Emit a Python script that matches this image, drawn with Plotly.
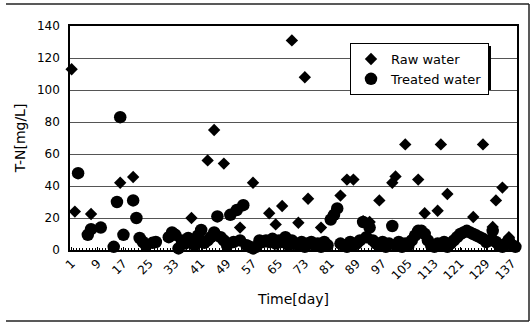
import plotly.graph_objects as go

# Raw water T-N (day, mg/L)
raw_day = [1, 2, 7, 16, 20, 38, 43, 45, 48, 53, 57, 62, 64, 66, 69, 71, 73, 74, 78,
           84, 86, 88, 91, 93, 96, 100, 101, 104, 108, 110, 114, 115, 117, 125, 128,
           131, 132, 134, 136]
raw_val = [113, 24, 22.5, 42, 45.6, 20, 56, 75, 54, 14, 42, 23, 16, 27.5, 131, 17, 108, 32, 14,
           34, 44, 44, 18, 17.5, 31, 42, 46, 66, 44, 23, 24.5, 66, 35, 20.6, 66,
           14.4, 31, 39, 8]

# Treated water T-N (day, mg/L)
treated_day = [3, 6, 7, 10, 14, 15, 16, 17, 20, 21, 22, 23, 24, 26, 27, 31, 32, 33, 34, 35,
               36, 37, 38, 39, 40, 41, 42, 43, 44, 45, 46, 47, 48, 49, 50, 51, 52, 53, 54, 55,
               56, 57, 58, 59, 60, 61, 62, 63, 64, 65, 66, 67, 68, 69, 70, 71, 72, 73, 74, 75,
               76, 77, 78, 79, 80, 81, 82, 83, 84, 85, 86, 87, 88, 89, 90, 91, 92, 93, 94, 95,
               96, 97, 98, 99, 100, 101, 102, 103, 104, 105, 106, 107, 108, 109, 110, 111, 112,
               113, 114, 115, 116, 117, 118, 119, 120, 121, 122, 123, 124, 125, 126, 127, 128,
               129, 130, 131, 132, 133, 134, 135, 136, 137, 138]
treated_val = [48, 9.5, 13, 14, 2, 30, 83, 9.5, 31, 20, 7.5, 5, 3, 4.5, 5, 8, 11, 9.5, 1, 6,
               4, 7.5, 6, 3, 9, 12.5, 4.5, 6, 8, 11, 21, 8, 6, 3, 22, 5, 25, 6, 28, 3,
               2, 1, 2, 6, 5, 6, 5, 7, 4, 6, 5, 8, 3, 6, 4, 3, 5, 2, 4, 5,
               3, 4, 2, 5, 3, 19, 22, 26, 4, 3, 2, 5, 3, 4, 6, 17.5, 8, 14, 6, 4,
               3, 5, 2, 4, 15, 3, 5, 2, 4, 3, 6, 9, 12, 12, 10, 6, 3,
               2, 4, 3, 5, 2, 4, 6, 8, 10, 11, 12, 11, 10, 9, 8, 7,
               5, 6, 12, 5, 3, 2, 4, 6, 3, 2]

x_ticks = list(range(1, 138, 8))
x_ticklabels = [str(v) for v in x_ticks]
y_ticks = list(range(0, 141, 20))

FONT = "DejaVu Sans, Arial, sans-serif"

fig = go.Figure()
fig.add_trace(go.Scatter(
    x=raw_day, y=raw_val, mode="markers", name="Raw water",
    marker=dict(symbol="diamond", size=9.5, color="black", line=dict(width=0)),
    cliponaxis=False))
fig.add_trace(go.Scatter(
    x=treated_day, y=treated_val, mode="markers", name="Treated water",
    marker=dict(symbol="circle", size=12.5, color="black", line=dict(width=0)),
    cliponaxis=False))

L, R, T, B = 70, 14, 26, 74
PW, PH = 531 - L - R, 324 - T - B

def px_x(p):
    return (p - L) / PW

def px_y(p):
    return (324 - B - p) / PH

fig.update_layout(
    width=531, height=324,
    margin=dict(l=L, r=R, t=T, b=B),
    paper_bgcolor="white", plot_bgcolor="white",
    font=dict(family=FONT, size=12, color="black"),
    showlegend=True,
    legend=dict(x=px_x(350), y=px_y(43), xanchor="left", yanchor="top",
                bgcolor="white", bordercolor="black", borderwidth=1,
                font=dict(size=13, family=FONT), tracegroupgap=0,
                itemwidth=30),
    xaxis=dict(range=[0.5, 138.5], tickmode="array", tickvals=x_ticks,
               ticktext=x_ticklabels, tickangle=-45,
               automargin=False,
               showgrid=False, zeroline=False,
               showline=True, linecolor="black", linewidth=1.5, mirror=True,
               ticks="inside", ticklen=3, tickcolor="black",
               minor=dict(dtick=1, tick0=0.5, ticks="inside", ticklen=2, tickcolor="black"),
               tickfont=dict(size=12),
               title=dict(text="Time[day]", font=dict(size=14), standoff=12)),
    yaxis=dict(range=[0, 140], tickmode="array", tickvals=y_ticks,
               automargin=False,
               showgrid=True, gridcolor="#555555", gridwidth=1,
               zeroline=False, showline=True, linecolor="black", linewidth=1.5,
               mirror=True, ticks="", ticklabelstandoff=6,
               tickfont=dict(size=12),
               title=dict(text="T-N[mg/L]", font=dict(size=14), standoff=8)),
)

# legend drop shadow
fig.add_shape(type="rect", xref="paper", yref="paper", layer="above",
              x0=px_x(353), y0=px_y(46), x1=px_x(491), y1=px_y(90),
              fillcolor="black", line=dict(width=0))

# outer chart frame (top, right, bottom)
frame = [((6, 4), (529, 4)), ((529, 4), (529, 321)), ((6, 321), (529, 321))]
for (x0, y0), (x1, y1) in frame:
    fig.add_shape(type="line", xref="paper", yref="paper",
                  x0=px_x(x0), y0=px_y(y0), x1=px_x(x1), y1=px_y(y1),
                  line=dict(color="#222222", width=1.5))

fig.write_html("out.html",
               post_script="document.body.style.margin='0';"
                           "var s=document.createElement('style');"
                           "s.textContent='.modebar-container{display:none !important;}';"
                           "document.head.appendChild(s);")
